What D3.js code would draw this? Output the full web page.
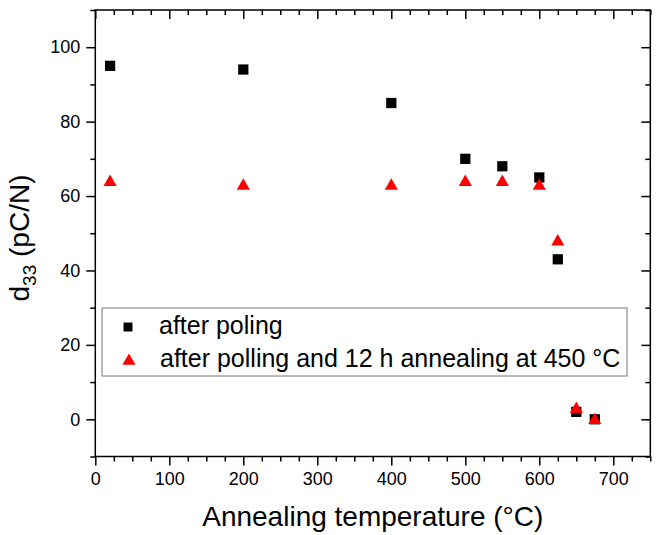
<!DOCTYPE html>
<html><head><meta charset="utf-8">
<script src="https://cdn.jsdelivr.net/npm/d3@7"></script>
<style>body{margin:0;background:#fff}svg{display:block;font-family:"Liberation Sans",Arial,sans-serif}</style>
</head><body>
<script>
const temps = [20, 200, 400, 500, 550, 600, 625, 650, 675];
const afterPoling = [95, 94, 85, 70, 68, 65, 43, 2, 0];
const afterAnnealing = [64, 63, 63, 64, 64, 63, 48, 3, 0];
const xTicks = [0, 100, 200, 300, 400, 500, 600, 700];
const yTicks = [0, 20, 40, 60, 80, 100];
const seriesNames = ["after poling", "after polling and 12 h annealing at 450 \u00B0C"];

const W = 657, H = 535;
const m = {l: 95.3, r: 650.3, t: 10, b: 456.5};
const svg = d3.select("body").append("svg").attr("width", W).attr("height", H);
const x = d3.scaleLinear().domain([0, 750]).range([m.l, m.r]);
const y = d3.scaleLinear().domain([-10, 110]).range([m.b, m.t]);

const minorX = d3.range(0, 751, 25).filter(v => v % 100 !== 0);
const minorY = d3.range(-10, 111, 10).filter(v => v % 20 !== 0);

// bottom axis
const gB = svg.append("g").attr("transform", `translate(0,${m.b})`);
gB.call(d3.axisBottom(x).tickValues(xTicks).tickSize(9).tickPadding(7).tickFormat(d3.format("d")));
gB.append("g").call(d3.axisBottom(x).tickValues(minorX).tickSize(5).tickFormat(""));
// top axis (inward)
const gT = svg.append("g").attr("transform", `translate(0,${m.t})`);
gT.call(d3.axisBottom(x).tickValues(xTicks).tickSize(9).tickFormat(""));
gT.append("g").call(d3.axisBottom(x).tickValues(minorX).tickSize(5).tickFormat(""));
// left axis
const gL = svg.append("g").attr("transform", `translate(${m.l},0)`);
gL.call(d3.axisLeft(y).tickValues(yTicks).tickSize(9).tickPadding(6).tickFormat(d3.format("d")));
gL.append("g").call(d3.axisLeft(y).tickValues(minorY).tickSize(5).tickFormat(""));
// right axis (inward)
const gR = svg.append("g").attr("transform", `translate(${m.r},0)`);
gR.call(d3.axisLeft(y).tickValues(yTicks).tickSize(9).tickFormat(""));
gR.append("g").call(d3.axisLeft(y).tickValues(minorY).tickSize(5).tickFormat(""));

svg.selectAll(".domain").remove();
svg.selectAll(".tick line").attr("stroke", "#000").attr("stroke-width", 1.5);
svg.selectAll(".tick text").attr("font-size", 18).attr("fill", "#000").attr("font-family", "Liberation Sans, Arial, sans-serif");

svg.append("rect").attr("x", m.l).attr("y", m.t).attr("width", m.r - m.l).attr("height", m.b - m.t)
  .attr("fill", "none").attr("stroke", "#000").attr("stroke-width", 1.5);

// data
const sq = d3.symbol().type(d3.symbolSquare).size(105);
const tri = d3.symbol().type(d3.symbolTriangle).size(75);
svg.append("g").selectAll("path").data(temps).join("path")
  .attr("d", sq).attr("transform", (d, i) => `translate(${x(d)},${y(afterPoling[i])})`).attr("fill", "#000");
svg.append("g").selectAll("path").data(temps).join("path")
  .attr("d", tri).attr("transform", (d, i) => `translate(${x(d)},${y(afterAnnealing[i]) + 1})`).attr("fill", "#ff0000");

// legend
const lg = svg.append("g");
lg.append("rect").attr("x", 102).attr("y", 308).attr("width", 525).attr("height", 68)
  .attr("fill", "#fff").attr("stroke", "#777").attr("stroke-width", 1);
lg.append("path").attr("d", d3.symbol().type(d3.symbolSquare).size(80)).attr("transform", "translate(128,327)").attr("fill", "#000");
lg.append("path").attr("d", d3.symbol().type(d3.symbolTriangle).size(75)).attr("transform", "translate(129,361)").attr("fill", "#ff0000");
lg.append("text").attr("x", 159).attr("y", 334).attr("font-size", 25).text(seriesNames[0]);
lg.append("text").attr("x", 160).attr("y", 367).attr("font-size", 25).text(seriesNames[1]);

// axis titles
svg.append("text").attr("x", (m.l + m.r) / 2).attr("y", 526).attr("text-anchor", "middle")
  .attr("font-size", 28).text("Annealing temperature (\u00B0C)");
const yt = svg.append("text").attr("transform", "translate(29,238) rotate(-90)").attr("text-anchor", "middle").attr("font-size", 28);
yt.append("tspan").text("d");
yt.append("tspan").attr("font-size", 19).attr("dy", 7).text("33");
yt.append("tspan").attr("dy", -7).text(" (pC/N)");
</script>
</body></html>
